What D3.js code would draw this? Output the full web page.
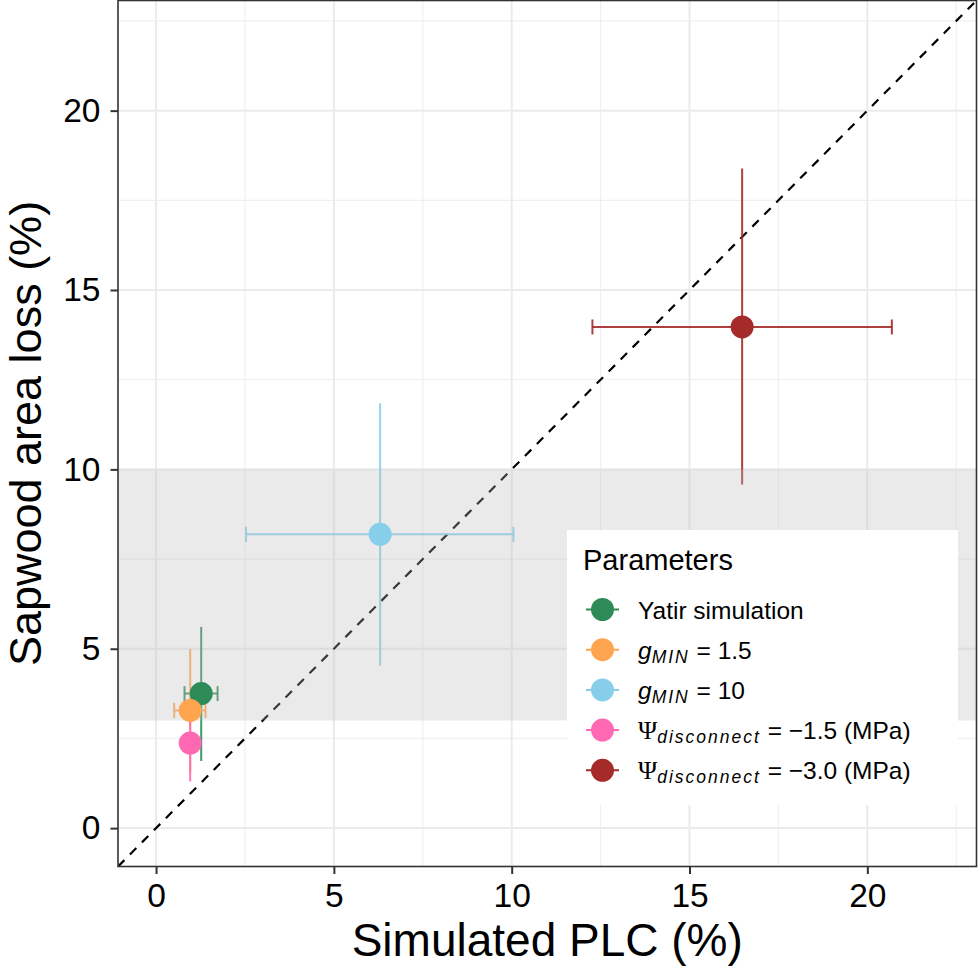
<!DOCTYPE html>
<html>
<head>
    <meta charset="utf-8">
    <title>sapwood-vs-plc</title>
    <style>
        body { margin: 0; background: #fff; }
        text { font-family: "Liberation Sans", Arial, sans-serif; }
    </style>
</head>
<body>
    <svg id="chart" width="978" height="968"></svg>

    <script src="https://cdn.jsdelivr.net/npm/d3@7"></script>
    <script>

    // data
    var labels = ['Yatir simulation', 'gMIN = 1.5', 'gMIN = 10', 'Psi = -1.5', 'Psi = -3.0']
    var colors = ['#2E8B57', '#FFA54F', '#87CEEB', '#FF69B4', '#A52A2A']
    var plc    = [1.27, 0.96, 6.30, 0.96, 16.48]
    var plcLo  = [0.80, 0.51, 2.53, 0.78, 12.27]
    var plcHi  = [1.73, 1.39, 10.05, 1.14, 20.69]
    var sal    = [3.75, 3.28, 8.19, 2.37, 13.97]
    var salLo  = [1.87, 1.57, 4.53, 1.30, 9.58]
    var salHi  = [5.61, 4.99, 11.84, 3.44, 18.39]
    var ticks  = [0, 5, 10, 15, 20]
    var minorTicks = [2.5, 7.5, 12.5, 17.5, 22.5]
    var band   = [3, 10]   // shaded range of sapwood area loss

    // legend text pieces: [main, subscript, rest]
    var legendParts = [
        [null, null, 'Yatir simulation'],
        ['g', 'MIN', ' = 1.5'],
        ['g', 'MIN', ' = 10'],
        ['\u03A8', 'disconnect', ' = \u22121.5 (MPa)'],
        ['\u03A8', 'disconnect', ' = \u22123.0 (MPa)']
    ]

    var rows = labels.map(function(d, i) {
        return { label: d, color: colors[i], x: plc[i], xlo: plcLo[i], xhi: plcHi[i],
                 y: sal[i], ylo: salLo[i], yhi: salHi[i], parts: legendParts[i] }
    })

    // panel box (note: "top" is taken by window.top, so other names)
    var pL = 118, pR = 976.5, pT = 0.5, pB = 866.5
    var x = d3.scaleLinear().domain([-1.07, 23.07]).range([pL, pR])
    var y = d3.scaleLinear().domain([-1.07, 23.07]).range([pB, pT])

    var svg = d3.select('#chart')

    svg.append('defs').append('clipPath').attr('id', 'panel')
        .append('rect')
        .attr('x', pL).attr('y', pT)
        .attr('width', pR - pL).attr('height', pB - pT)

    var panel = svg.append('g').attr('clip-path', 'url(#panel)')

    // grid
    panel.selectAll('.minor-x').data(minorTicks).enter().append('line')
        .attr('x1', function(d){ return x(d) }).attr('x2', function(d){ return x(d) })
        .attr('y1', pT).attr('y2', pB)
        .attr('stroke', '#F0F0F0').attr('stroke-width', 1.2)
    panel.selectAll('.minor-y').data(minorTicks).enter().append('line')
        .attr('y1', function(d){ return y(d) }).attr('y2', function(d){ return y(d) })
        .attr('x1', pL).attr('x2', pR)
        .attr('stroke', '#F0F0F0').attr('stroke-width', 1.2)
    panel.selectAll('.major-x').data(ticks).enter().append('line')
        .attr('x1', function(d){ return x(d) }).attr('x2', function(d){ return x(d) })
        .attr('y1', pT).attr('y2', pB)
        .attr('stroke', '#EBEBEB').attr('stroke-width', 2)
    panel.selectAll('.major-y').data(ticks).enter().append('line')
        .attr('y1', function(d){ return y(d) }).attr('y2', function(d){ return y(d) })
        .attr('x1', pL).attr('x2', pR)
        .attr('stroke', '#EBEBEB').attr('stroke-width', 2)

    // 1:1 line
    var dom = x.domain()
    panel.append('line')
        .attr('x1', x(dom[0])).attr('y1', y(dom[0]))
        .attr('x2', x(dom[1])).attr('y2', y(dom[1]))
        .attr('stroke', '#000').attr('stroke-width', 2.2)
        .attr('stroke-dasharray', '9,8')

    // error bars
    var capH = 7.5
    var bars = panel.selectAll('.err').data(rows).enter().append('g')
        .attr('stroke', function(d){ return d.color })
        .attr('stroke-width', 2)
        .attr('stroke-opacity', 0.9)
    bars.append('line')
        .attr('x1', function(d){ return x(d.x) }).attr('x2', function(d){ return x(d.x) })
        .attr('y1', function(d){ return y(d.ylo) }).attr('y2', function(d){ return y(d.yhi) })
    bars.append('line')
        .attr('x1', function(d){ return x(d.xlo) }).attr('x2', function(d){ return x(d.xhi) })
        .attr('y1', function(d){ return y(d.y) }).attr('y2', function(d){ return y(d.y) })
    bars.append('line')
        .attr('x1', function(d){ return x(d.xlo) }).attr('x2', function(d){ return x(d.xlo) })
        .attr('y1', function(d){ return y(d.y) - capH }).attr('y2', function(d){ return y(d.y) + capH })
    bars.append('line')
        .attr('x1', function(d){ return x(d.xhi) }).attr('x2', function(d){ return x(d.xhi) })
        .attr('y1', function(d){ return y(d.y) - capH }).attr('y2', function(d){ return y(d.y) + capH })

    // shaded band (semi transparent, over the lines)
    panel.append('rect')
        .attr('x', pL).attr('width', pR - pL)
        .attr('y', y(band[1])).attr('height', y(band[0]) - y(band[1]))
        .attr('fill', 'rgb(187,187,187)').attr('fill-opacity', 0.3)

    // points
    panel.selectAll('.pt').data(rows).enter().append('circle')
        .attr('cx', function(d){ return x(d.x) })
        .attr('cy', function(d){ return y(d.y) })
        .attr('r', 11.5)
        .attr('fill', function(d){ return d.color })

    // panel border
    svg.append('rect')
        .attr('x', pL).attr('y', pT)
        .attr('width', pR - pL).attr('height', pB - pT)
        .attr('fill', 'none').attr('stroke', '#333').attr('stroke-width', 1.6)

    // axes
    var xAxis = svg.append('g')
        .attr('transform', 'translate(0,' + pB + ')')
        .call(d3.axisBottom(x).tickValues(ticks).tickSize(7.5).tickPadding(9))
    var yAxis = svg.append('g')
        .attr('transform', 'translate(' + pL + ',0)')
        .call(d3.axisLeft(y).tickValues(ticks).tickSize(7.5).tickPadding(10))
    ;[xAxis, yAxis].forEach(function(a){
        a.select('.domain').remove()
        a.selectAll('.tick line').attr('stroke', '#333').attr('stroke-width', 2)
        a.selectAll('.tick text')
            .attr('fill', '#000')
            .style('font-size', '33.5px')
            .style('font-family', '"Liberation Sans", Arial, sans-serif')
    })

    // axis titles
    svg.append('text')
        .attr('x', (pL + pR) / 2).attr('y', 956)
        .attr('text-anchor', 'middle')
        .style('font-size', '46px')
        .text('Simulated PLC (%)')
    svg.append('text')
        .attr('transform', 'translate(41,' + ((pT + pB) / 2) + ') rotate(-90)')
        .attr('text-anchor', 'middle')
        .style('font-size', '45px')
        .text('Sapwood area loss (%)')

    // legend
    var lg = svg.append('g')
    lg.append('rect')
        .attr('x', 567).attr('y', 530)
        .attr('width', 391).attr('height', 275)
        .attr('fill', '#fff')
    lg.append('text')
        .attr('x', 583).attr('y', 569.5)
        .style('font-size', '29px')
        .text('Parameters')

    var keys = lg.selectAll('.key').data(rows).enter().append('g')
        .attr('transform', function(d, i){ return 'translate(0,' + (609.5 + i * 40.2) + ')' })
    keys.append('line')
        .attr('x1', 586).attr('x2', 619)
        .attr('stroke', function(d){ return d.color })
        .attr('stroke-width', 2)
    keys.append('circle')
        .attr('cx', 602.5).attr('r', 11.5)
        .attr('fill', function(d){ return d.color })

    var kt = keys.append('text')
        .attr('x', 638).attr('y', 9)
        .style('font-size', '24.5px')
    kt.each(function(d){
        var t = d3.select(this)
        var p = d.parts
        if (p[0]) {
            t.append('tspan')
                .style('font-family', p[0] === 'g' ? '"Liberation Sans", Arial, sans-serif' : '"Liberation Serif", serif')
                .style('font-style', p[0] === 'g' ? 'italic' : 'normal')
                .style('font-size', p[0] === 'g' ? '24.5px' : '26px')
                .text(p[0])
            t.append('tspan')
                .attr('dy', 4)
                .style('font-size', '17.5px')
                .style('font-style', 'italic')
                .style('letter-spacing', '2px')
                .text(p[1])
            t.append('tspan').attr('dy', -4).text(p[2])
        } else {
            t.text(p[2])
        }
    })

    </script>
</body>
</html>
